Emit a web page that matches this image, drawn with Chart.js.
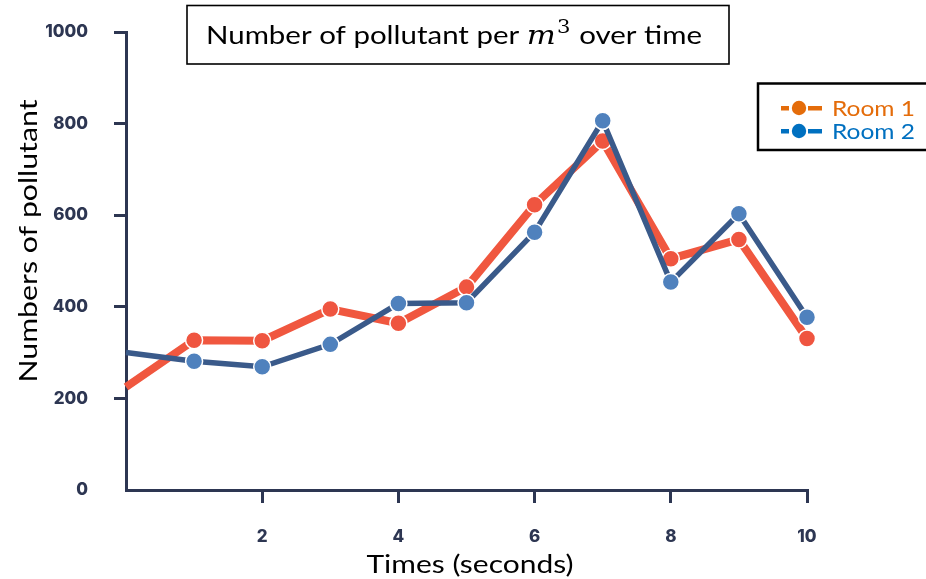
<!DOCTYPE html>
<html>
<head>
<meta charset="utf-8">
<title>Number of pollutant per m³ over time</title>
<script src="https://cdn.jsdelivr.net/npm/chart.js@4.4.1/dist/chart.umd.min.js"></script>
<style>
  html, body { margin: 0; padding: 0; background: #ffffff; }
  #wrap { position: relative; width: 926px; height: 579px; }
</style>
</head>
<body>
<div id="wrap"><canvas id="chart" width="926" height="579"></canvas></div>
<script>
// Sampling times (seconds)
const times = [0, 1, 2, 3, 4, 5, 6, 7, 8, 9, 10];
// Pollutant counts per m³ for each room
const room1 = [225, 327, 326, 395, 364, 443, 623, 762, 505, 547, 331];
const room2 = [300, 281, 269, 318, 407, 409, 563, 806, 454, 603, 377];
// Axis tick values
const xTickValues = [2, 4, 6, 8, 10];
const yTickValues = [0, 200, 400, 600, 800, 1000];
const seriesNames = ['Room 1', 'Room 2'];

const AXIS = '#2d3652';
const TEXT_FAMILY = 'Lato, "Open Sans", sans-serif';

// Boxed chart title with an italic m and superscript 3
const titleBox = {
  id: 'titleBox',
  afterDraw(chart) {
    const ctx = chart.ctx;
    ctx.save();
    ctx.strokeStyle = '#000';
    ctx.lineWidth = 1.6;
    ctx.strokeRect(187, 5.5, 542, 58.5);
    const a = 'Number of pollutant per ', b = ' over time';
    const size = 25;
    const mathFont = `italic 400 ${size + 1}px "DejaVu Serif", serif`;
    const supFont = `400 ${Math.round(size * 0.7)}px "DejaVu Serif", serif`;
    const base = `400 ${size}px ${TEXT_FAMILY}`;
    ctx.font = base; const wa = ctx.measureText(a).width, wb = ctx.measureText(b).width;
    ctx.font = mathFont; const wm = ctx.measureText('m').width;
    ctx.font = supFont; const ws = ctx.measureText('3').width;
    const total = wa + wm + ws + 2 + wb;
    const sx = 496 / total;
    ctx.translate(206, 44);
    ctx.scale(sx, 1);
    ctx.fillStyle = '#000';
    ctx.textBaseline = 'alphabetic';
    ctx.textAlign = 'left';
    let x = 0;
    ctx.font = base; ctx.fillText(a, x, 0); x += wa;
    ctx.font = mathFont; ctx.fillText('m', x, 0); x += wm + 1;
    ctx.font = supFont; ctx.fillText('3', x, -11); x += ws + 1;
    ctx.font = base; ctx.fillText(b, x, 0);
    ctx.restore();
  }
};

// Boxed legend on the right, clipped by the canvas edge
const sideLegend = {
  id: 'sideLegend',
  afterDraw(chart, args, opts) {
    const ctx = chart.ctx;
    ctx.save();
    ctx.strokeStyle = '#000';
    ctx.lineWidth = 2.5;
    ctx.strokeRect(758, 83.5, 200, 66.5);
    chart.data.datasets.forEach((ds, i) => {
      const col = opts.colors[i];
      const cy = 108 + i * 23;
      ctx.fillStyle = col;
      ctx.fillRect(781, cy - 2, 8, 4.5);
      ctx.fillRect(808, cy - 2, 14, 4.5);
      ctx.beginPath();
      ctx.arc(799, cy, 7.2, 0, Math.PI * 2);
      ctx.fill();
      ctx.font = `400 21px ${TEXT_FAMILY}`;
      const w = ctx.measureText(ds.label).width;
      ctx.save();
      ctx.translate(832, cy + 7.5);
      ctx.scale(83 / w, 1);
      ctx.textAlign = 'left';
      ctx.textBaseline = 'alphabetic';
      ctx.fillText(ds.label, 0, 0);
      ctx.restore();
    });
    ctx.restore();
  }
};

// Rotated y-axis title
const yTitle = {
  id: 'yTitle',
  afterDraw(chart) {
    const ctx = chart.ctx;
    const text = 'Numbers of pollutant';
    ctx.save();
    ctx.font = `400 25px ${TEXT_FAMILY}`;
    const w = ctx.measureText(text).width;
    ctx.translate(37, 241);
    ctx.rotate(-Math.PI / 2);
    ctx.scale(283 / w, 1);
    ctx.fillStyle = '#000';
    ctx.textAlign = 'center';
    ctx.textBaseline = 'alphabetic';
    ctx.fillText(text, 0, 0);
    ctx.restore();
  }
};

// X-axis title
const xTitle = {
  id: 'xTitle',
  afterDraw(chart) {
    const ctx = chart.ctx;
    const text = 'Times (seconds)';
    ctx.save();
    ctx.font = `400 25px ${TEXT_FAMILY}`;
    const w = ctx.measureText(text).width;
    ctx.translate(470, 573);
    ctx.scale(207 / w, 1);
    ctx.fillStyle = '#000';
    ctx.textAlign = 'center';
    ctx.textBaseline = 'alphabetic';
    ctx.fillText(text, 0, 0);
    ctx.restore();
  }
};

const toPoints = vals => times.map((t, i) => ({ x: t, y: vals[i] }));
const hideFirst = r => ctx => (ctx.dataIndex === 0 ? 0 : r);

new Chart(document.getElementById('chart'), {
  type: 'line',
  data: {
    datasets: [
      {
        label: seriesNames[0],
        data: toPoints(room1),
        borderColor: '#f0573f',
        backgroundColor: '#ef5540',
        borderWidth: 8,
        pointRadius: hideFirst(8.5),
        pointBorderColor: '#ffffff',
        pointBorderWidth: 1.5,
        pointBackgroundColor: '#ef5540',
        tension: 0,
        order: 2
      },
      {
        label: seriesNames[1],
        data: toPoints(room2),
        borderColor: '#3a5a8a',
        backgroundColor: '#4f81bd',
        borderWidth: 5.5,
        pointRadius: hideFirst(8.5),
        pointBorderColor: '#ffffff',
        pointBorderWidth: 1.5,
        pointBackgroundColor: '#4f81bd',
        tension: 0,
        order: 1
      }
    ]
  },
  options: {
    responsive: false,
    animation: false,
    events: [],
    clip: false,
    layout: { padding: { left: 0, right: 119, top: 32, bottom: 0 } },
    plugins: {
      legend: { display: false },
      title: { display: false },
      tooltip: { enabled: false },
      sideLegend: { colors: ['#e46c0a', '#0070c0'] }
    },
    scales: {
      x: {
        type: 'linear',
        min: 0,
        max: 10,
        afterBuildTicks: s => { s.ticks = [0, ...xTickValues].map(v => ({ value: v })); },
        afterFit: s => { s.height = 89; s.paddingLeft = 0; s.paddingRight = 0; },
        border: { display: true, color: AXIS, width: 3 },
        grid: {
          drawOnChartArea: false,
          drawTicks: true,
          tickLength: 13,
          lineWidth: 3,
          color: c => (c.tick && c.tick.value === 0 ? 'rgba(0,0,0,0)' : AXIS)
        },
        ticks: {
          padding: 24,
          color: AXIS,
          font: { family: 'Inter, sans-serif', size: 17, weight: '800' },
          callback: v => (v === 0 ? '' : String(v))
        }
      },
      y: {
        min: 0,
        max: 1000,
        afterBuildTicks: s => { s.ticks = yTickValues.map(v => ({ value: v })); },
        afterFit: s => { s.width = 126; s.paddingTop = 0; s.paddingBottom = 0; },
        border: { display: true, color: AXIS, width: 3 },
        grid: {
          drawOnChartArea: false,
          drawTicks: true,
          tickLength: 12,
          lineWidth: 3,
          color: c => (c.tick && c.tick.value === 0 ? 'rgba(0,0,0,0)' : AXIS)
        },
        ticks: {
          padding: 26,
          color: AXIS,
          font: { family: 'Inter, sans-serif', size: 17, weight: '800' },
          callback: v => String(v)
        }
      }
    }
  },
  plugins: [titleBox, sideLegend, yTitle, xTitle]
});
</script>
</body>
</html>
